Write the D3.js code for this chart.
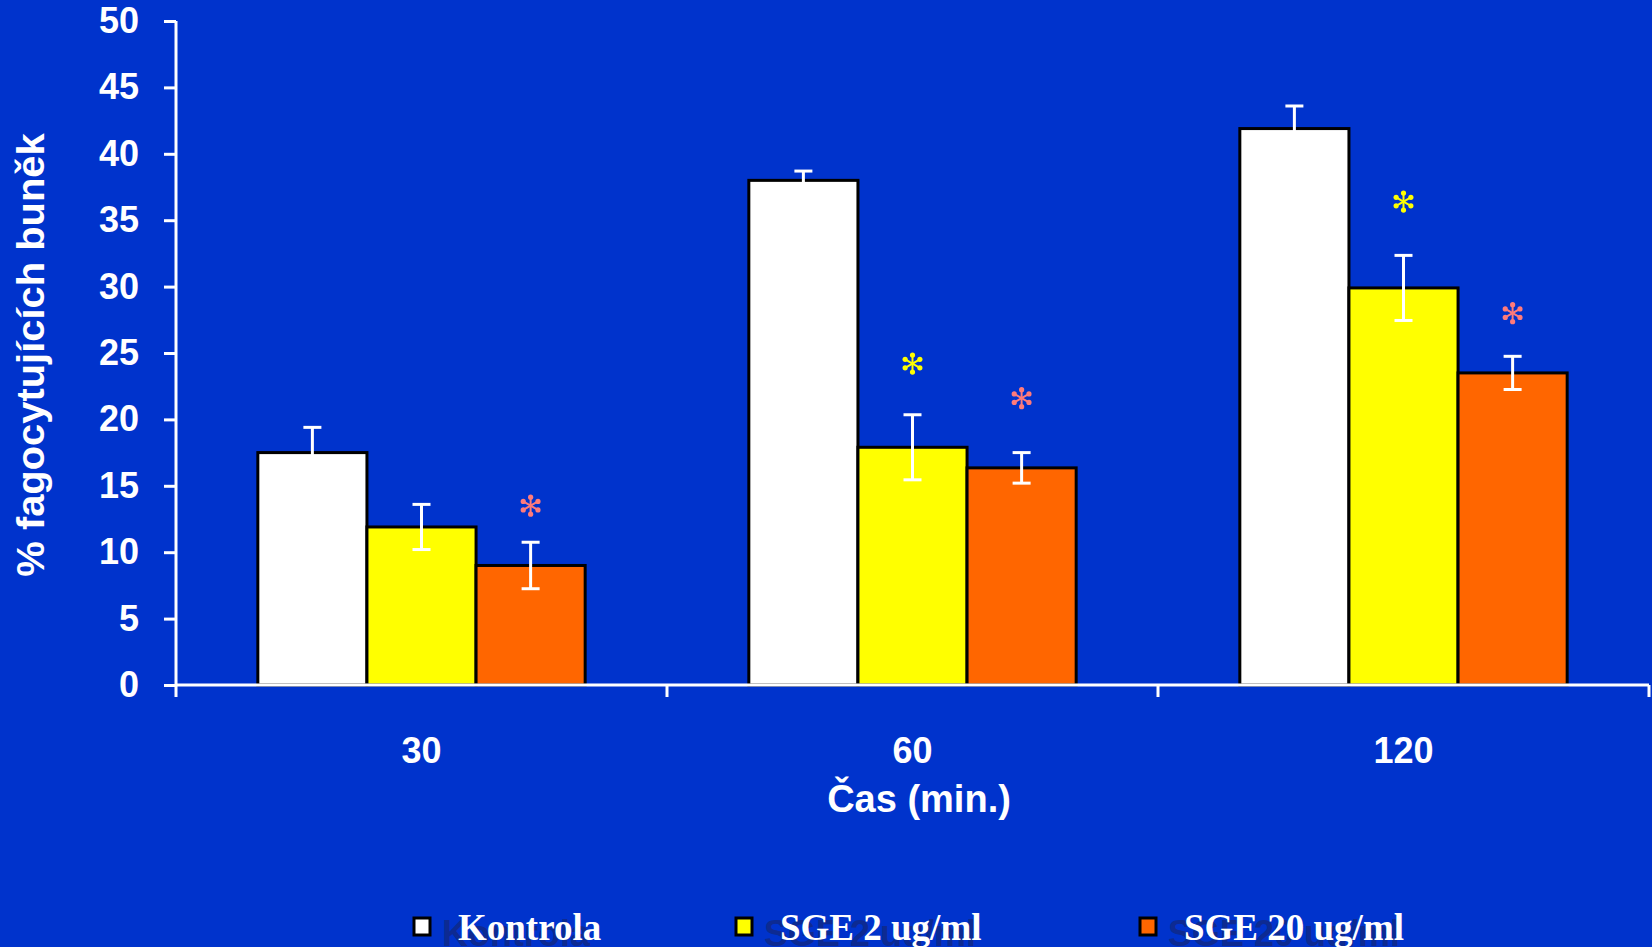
<!DOCTYPE html>
<html>
<head>
<meta charset="utf-8">
<script src="https://cdn.jsdelivr.net/npm/d3@7"></script>
<style>
  html, body { margin: 0; padding: 0; background: #0033cc; }
  #chartMain { width: 1652px; height: 947px; overflow: hidden; }
</style>
</head>
<body>
<div id="chartMain"></div>
<script>
// data
const categories = ["30", "60", "120"];
const seriesNames = ["Kontrola", "SGE 2 ug/ml", "SGE 20 ug/ml"];
const kontrola = [17.5, 38.0, 41.9];
const sge2 = [11.9, 17.9, 29.9];
const sge20 = [9.0, 16.35, 23.5];
const kontrolaErr = [1.9, 0.7, 1.7];
const sge2Err = [1.7, 2.45, 2.45];
const sge20Err = [1.75, 1.15, 1.25];
// asterisk heights (null = no asterisk)
const kontrolaStar = [null, null, null];
const sge2Star = [null, 24.2, 36.4];
const sge20Star = [13.5, 21.6, 28.0];
const yTicks = [0, 5, 10, 15, 20, 25, 30, 35, 40, 45, 50];

const colors = ["#ffffff", "#ffff00", "#ff6600"];
const starColors = [null, "#ffff00", "#ff7b7b"];

const values = [kontrola, sge2, sge20];
const errors = [kontrolaErr, sge2Err, sge20Err];
const stars = [kontrolaStar, sge2Star, sge20Star];

const W = 1652, H = 947;
const plot = { left: 176, right: 1649, top: 21, bottom: 685 };

const svg = d3.select('#chartMain')
    .append('svg')
    .attr('width', W)
    .attr('height', H);

svg.append('rect').attr('width', W).attr('height', H).attr('fill', '#0033cc');

// scales
const x0 = d3.scaleBand()
    .domain(categories)
    .range([plot.left, plot.right])
    .padding(0);

const x1 = d3.scaleBand()
    .domain(seriesNames)
    .range([0, x0.bandwidth()])
    .paddingInner(0)
    .paddingOuter(0.75);

const y = d3.scaleLinear()
    .domain([0, 50])
    .range([plot.bottom, plot.top]);

// bars
const groups = svg.append('g')
    .selectAll('g')
    .data(categories)
    .join('g')
    .attr('transform', d => `translate(${x0(d)},0)`);

const cells = groups.selectAll('g.cell')
    .data((c, ci) => seriesNames.map((s, si) => ({
        s, si, v: values[si][ci], e: errors[si][ci], star: stars[si][ci]
    })))
    .join('g')
    .attr('class', 'cell');

cells.append('rect')
    .attr('x', d => x1(d.s))
    .attr('y', d => y(d.v))
    .attr('width', x1.bandwidth())
    .attr('height', d => y(0) - y(d.v))
    .attr('fill', d => colors[d.si])
    .attr('stroke', '#000')
    .attr('stroke-width', 3);

// error bars
const capW = 18;
const eb = cells.append('g')
    .attr('stroke', '#fff')
    .attr('stroke-width', 3);
eb.append('line')
    .attr('x1', d => x1(d.s) + x1.bandwidth() / 2)
    .attr('x2', d => x1(d.s) + x1.bandwidth() / 2)
    .attr('y1', d => y(d.v + d.e))
    .attr('y2', d => y(d.v - d.e));
eb.append('line')
    .attr('x1', d => x1(d.s) + x1.bandwidth() / 2 - capW / 2)
    .attr('x2', d => x1(d.s) + x1.bandwidth() / 2 + capW / 2)
    .attr('y1', d => y(d.v + d.e))
    .attr('y2', d => y(d.v + d.e));
eb.append('line')
    .attr('x1', d => x1(d.s) + x1.bandwidth() / 2 - capW / 2)
    .attr('x2', d => x1(d.s) + x1.bandwidth() / 2 + capW / 2)
    .attr('y1', d => y(d.v - d.e))
    .attr('y2', d => y(d.v - d.e));

// significance asterisks (six teardrop spokes)
const starAngles = [90, 30, -30, -90, -150, 150];
const st = cells.filter(d => d.star != null)
    .append('g')
    .attr('transform', d => `translate(${x1(d.s) + x1.bandwidth() / 2},${y(d.star)})`)
    .attr('fill', d => starColors[d.si])
    .attr('stroke', d => starColors[d.si]);
starAngles.forEach(a => {
    const r = a * Math.PI / 180;
    st.append('line')
        .attr('x1', 0).attr('y1', 0)
        .attr('x2', Math.cos(r) * 8).attr('y2', -Math.sin(r) * 8)
        .attr('stroke-width', 2);
    st.append('circle')
        .attr('cx', Math.cos(r) * 8.5).attr('cy', -Math.sin(r) * 8.5)
        .attr('r', 2.6)
        .attr('stroke', 'none');
});

// y axis
const yAxis = d3.axisLeft(y)
    .tickValues(yTicks)
    .tickSize(12)
    .tickPadding(25);

const gy = svg.append('g')
    .attr('transform', `translate(${plot.left},0)`)
    .call(yAxis);
gy.select('.domain').remove();
gy.selectAll('.tick line').attr('stroke', '#fff').attr('stroke-width', 3);
gy.selectAll('.tick text')
    .attr('fill', '#fff')
    .style('font', 'bold 36px "Liberation Sans", Arial, sans-serif');
gy.append('line')
    .attr('x1', 0).attr('x2', 0)
    .attr('y1', y(50)).attr('y2', plot.bottom + 12)
    .attr('stroke', '#fff').attr('stroke-width', 3);

// x axis
const xAxis = d3.axisBottom(x0).tickSize(0).tickPadding(52);
const gx = svg.append('g')
    .attr('transform', `translate(0,${plot.bottom})`)
    .call(xAxis);
gx.select('.domain').remove();
gx.selectAll('.tick text')
    .attr('fill', '#fff')
    .style('font', 'bold 36px "Liberation Sans", Arial, sans-serif');
gx.append('line')
    .attr('x1', plot.left).attr('x2', plot.right)
    .attr('y1', 0).attr('y2', 0)
    .attr('stroke', '#fff').attr('stroke-width', 3);
gx.selectAll('line.sep')
    .data(categories.slice(1).concat(['end']))
    .join('line')
    .attr('class', 'sep')
    .attr('x1', d => d === 'end' ? plot.right : x0(d))
    .attr('x2', d => d === 'end' ? plot.right : x0(d))
    .attr('y1', 0).attr('y2', 12)
    .attr('stroke', '#fff').attr('stroke-width', 3);

// axis titles
svg.append('text')
    .attr('transform', `translate(919,812)`)
    .attr('text-anchor', 'middle')
    .attr('fill', '#fff')
    .style('font', 'bold 38px "Liberation Sans", Arial, sans-serif')
    .text('Čas (min.)');

svg.append('text')
    .attr('transform', `translate(44,355) rotate(-90) scale(1.05,1)`)
    .attr('text-anchor', 'middle')
    .attr('fill', '#fff')
    .style('font', 'bold 38px "Liberation Sans", Arial, sans-serif')
    .text('% fagocytujících buněk');

// legend
const legendX = [414, 736, 1140];
const lg = svg.append('g')
    .selectAll('g')
    .data(seriesNames)
    .join('g')
    .attr('transform', (d, i) => `translate(${legendX[i]},918)`);

// dark shadow copy behind each label, as in the original slide
lg.append('text')
    .attr('x', 28).attr('y', 28)
    .attr('fill', '#0d2a92')
    .style('font', 'bold 36px "Liberation Sans", Arial, sans-serif')
    .text(d => d);
lg.append('rect')
    .attr('x', 0).attr('y', 0)
    .attr('width', 16).attr('height', 17)
    .attr('fill', (d, i) => colors[i])
    .attr('stroke', '#000')
    .attr('stroke-width', 3);
lg.append('text')
    .attr('x', 44).attr('y', 22)
    .attr('fill', '#fff')
    .style('font', 'bold 37px "Liberation Serif", "Times New Roman", serif')
    .text(d => d);
</script>
</body>
</html>
